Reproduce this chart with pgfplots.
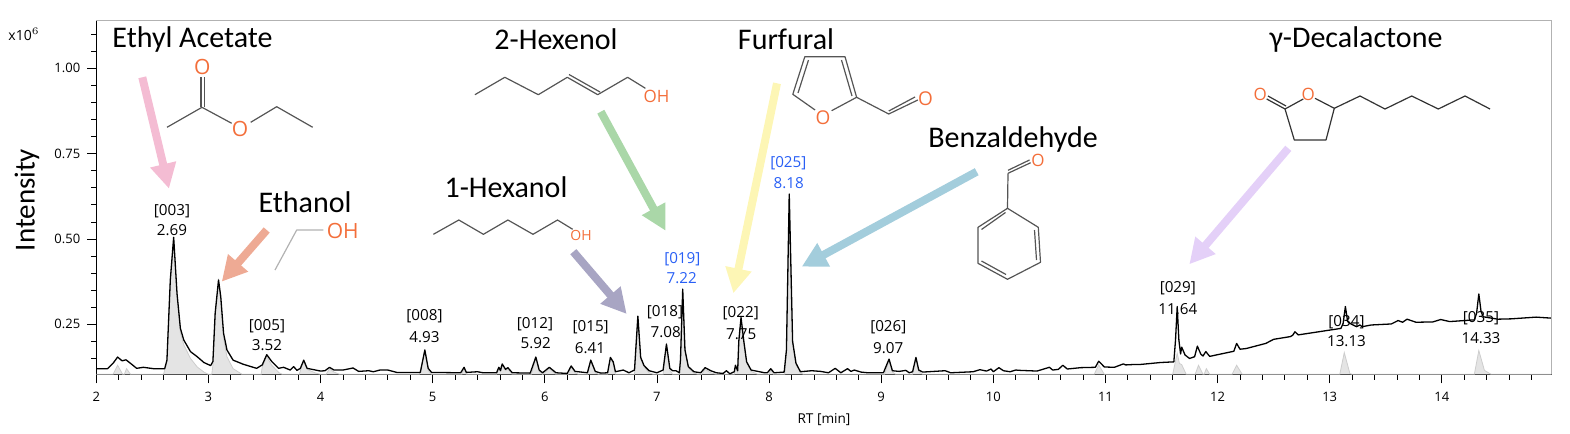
\documentclass[border=0pt]{standalone}
\usepackage{fontspec}
\setmainfont{Open Sans}
\newfontfamily\lab{Carlito}
\usepackage{pgfplots}
\pgfplotsset{compat=1.18}
\usetikzlibrary{arrows.meta}
\definecolor{orangeO}{RGB}{243,110,58}
\definecolor{bondgray}{RGB}{85,85,85}
\definecolor{frame}{RGB}{178,178,178}
\definecolor{peakfill}{RGB}{228,228,228}
\definecolor{peakline}{RGB}{205,205,205}
\definecolor{bluelab}{RGB}{40,95,245}
\definecolor{apink}{RGB}{244,188,211}
\definecolor{asalmon}{RGB}{238,170,148}
\definecolor{agreen}{RGB}{170,215,168}
\definecolor{ayellow}{RGB}{253,246,181}
\definecolor{ablue}{RGB}{163,205,220}
\definecolor{apurple}{RGB}{168,165,195}
\definecolor{alilac}{RGB}{228,208,248}

% chromatogram, RT [min] against intensity [x10^6]
\pgfplotstableread{
x y
2.00 .120
2.10 .120
2.15 .136
2.19 .154
2.23 .143
2.265 .146
2.315 .133
2.36 .121
2.42 .124
2.51 .120
2.61 .120
2.63 .145
2.66 .380
2.69 .505
2.72 .340
2.75 .238
2.78 .204
2.84 .170
2.90 .155
2.96 .138
3.02 .129
3.04 .141
3.06 .282
3.09 .380
3.11 .331
3.135 .224
3.165 .175
3.22 .145
3.31 .133
3.43 .121
3.48 .131
3.52 .161
3.565 .141
3.625 .121
3.67 .124
3.73 .116
3.76 .126
3.79 .115
3.82 .121
3.85 .145
3.88 .121
4.00 .113
4.04 .114
4.08 .124
4.12 .116
4.20 .116
4.29 .122
4.34 .112
4.43 .114
4.47 .111
4.53 .116
4.60 .116
4.68 .109
4.89 .109
4.93 .175
4.96 .121
4.99 .109
5.25 .108
5.28 .124
5.30 .109
5.40 .111
5.45 .108
5.57 .108
5.59 .124
5.605 .114
5.62 .134
5.65 .118
5.67 .123
5.71 .108
5.87 .107
5.92 .154
5.95 .116
5.98 .108
6.04 .124
6.10 .108
6.20 .106
6.235 .128
6.27 .112
6.38 .108
6.41 .145
6.45 .112
6.50 .107
6.56 .108
6.585 .153
6.61 .140
6.63 .111
6.70 .116
6.75 .108
6.80 .116
6.83 .274
6.855 .153
6.885 .129
6.93 .114
7.00 .108
7.055 .116
7.085 .192
7.115 .121
7.14 .114
7.17 .114
7.20 .108
7.21 .146
7.23 .353
7.25 .175
7.28 .126
7.33 .111
7.39 .108
7.43 .123
7.48 .114
7.53 .108
7.59 .106
7.62 .114
7.65 .105
7.69 .111
7.70 .130
7.72 .114
7.73 .200
7.75 .270
7.775 .200
7.80 .140
7.84 .116
7.90 .112
7.96 .108
7.985 .108
8.015 .120
8.045 .108
8.135 .110
8.155 .175
8.18 .632
8.21 .200
8.24 .136
8.28 .111
8.38 .114
8.46 .112
8.53 .108
8.59 .121
8.64 .108
8.70 .120
8.73 .112
8.76 .116
8.82 .110
8.88 .108
9.02 .108
9.07 .148
9.10 .114
9.16 .112
9.22 .115
9.25 .108
9.28 .111
9.31 .153
9.335 .116
9.37 .110
9.57 .114
9.62 .108
9.82 .111
9.88 .117
9.94 .113
9.98 .119
10.00 .111
10.05 .123
10.09 .114
10.15 .111
10.20 .116
10.24 .115
10.39 .113
10.50 .124
10.53 .116
10.58 .118
10.62 .130
10.66 .119
10.78 .123
10.91 .124
10.94 .142
10.99 .125
11.08 .124
11.16 .134
11.18 .131
11.24 .132
11.30 .132
11.49 .138
11.61 .140
11.625 .204
11.64 .302
11.655 .204
11.67 .163
11.68 .183
11.71 .160
11.75 .150
11.795 .155
11.82 .186
11.85 .163
11.87 .157
11.895 .170
11.93 .156
12.00 .161
12.145 .171
12.17 .194
12.20 .177
12.255 .179
12.43 .194
12.50 .206
12.65 .214
12.67 .218
12.69 .228
12.72 .219
12.90 .228
13.10 .238
13.12 .253
13.14 .302
13.16 .258
13.19 .251
13.24 .243
13.27 .248
13.29 .243
13.37 .248
13.55 .251
13.61 .261
13.65 .256
13.69 .265
13.77 .256
13.92 .257
13.99 .264
14.07 .258
14.29 .263
14.31 .282
14.33 .339
14.35 .287
14.37 .272
14.50 .265
14.62 .266
14.84 .271
14.98 .268
}\tic

% baseline corrected peaks (grey)
\pgfplotstableread{
x y
2.00 .1035
2.15 .1035
2.19 .130
2.235 .1035
2.25 .1035
2.27 .120
2.305 .1035
2.60 .1035
2.63 .140
2.66 .370
2.69 .500
2.72 .330
2.75 .225
2.78 .190
2.84 .150
2.90 .125
2.96 .110
3.00 .1035
3.03 .1035
3.04 .130
3.06 .270
3.09 .375
3.11 .320
3.135 .210
3.165 .155
3.22 .120
3.30 .1035
3.47 .1035
3.48 .125
3.52 .155
3.565 .130
3.63 .108
3.66 .1035
3.81 .1035
3.83 .125
3.85 .140
3.88 .118
3.95 .108
4.00 .1035
4.05 .1035
4.08 .120
4.12 .110
4.17 .1035
4.88 .1035
4.90 .130
4.93 .170
4.96 .115
4.99 .1035
5.26 .1035
5.28 .120
5.30 .1035
5.57 .1035
5.59 .120
5.62 .130
5.65 .114
5.67 .118
5.71 .1035
5.88 .1035
5.92 .150
5.95 .112
5.98 .1035
6.04 .120
6.10 .1035
6.21 .1035
6.235 .124
6.27 .108
6.30 .1035
6.38 .1035
6.41 .141
6.45 .108
6.48 .1035
6.56 .1035
6.585 .149
6.61 .136
6.63 .1035
6.80 .1035
6.83 .270
6.855 .149
6.885 .125
6.93 .108
6.97 .1035
7.055 .1035
7.085 .188
7.115 .116
7.14 .1035
7.20 .1035
7.21 .142
7.23 .349
7.25 .171
7.28 .122
7.33 .107
7.37 .1035
7.40 .1035
7.43 .118
7.48 .108
7.53 .1035
7.69 .1035
7.70 .126
7.72 .110
7.73 .196
7.75 .266
7.775 .196
7.80 .136
7.84 .112
7.90 .1035
8.00 .1035
8.015 .116
8.04 .1035
8.14 .1035
8.155 .171
8.18 .628
8.21 .196
8.24 .132
8.28 .107
8.31 .1035
9.03 .1035
9.07 .144
9.10 .110
9.13 .1035
9.28 .1035
9.31 .149
9.335 .112
9.37 .1035
10.90 .1035
10.94 .131
10.99 .1035
11.60 .1035
11.62 .135
11.64 .165
11.66 .135
11.68 .132
11.72 .1035
11.80 .1035
11.83 .130
11.87 .1035
11.88 .1035
11.90 .120
11.93 .1035
12.13 .1035
12.17 .130
12.22 .1035
13.09 .1035
13.13 .167
13.18 .106
13.20 .1035
14.29 .1035
14.33 .173
14.38 .115
14.44 .1035
14.98 .1035
}\peaks

\begin{document}
\begin{tikzpicture}
\begin{scope}[x=0.5pt,y=-0.5pt]
\useasboundingbox (0,0) rectangle (1570,434);
\end{scope}
\begin{axis}[
  at={(48.15pt,-187.15pt)},
  anchor=south west,
  scale only axis,
  width=727.7pt,
  height=176.8pt,
  xmin=2,xmax=14.98,
  ymin=0.1035,ymax=1.1395,
  axis x line*=bottom,
  axis y line*=left,
  axis line style={-,line width=0.6pt,black},
  tick style={line width=0.4pt,black},
  tick align=outside,
  major tick length=4.5pt,
  minor tick length=2.6pt,
  xtick={2,3,...,14},
  minor xtick={2.2,2.4,2.6,2.8,3.2,3.4,3.6,3.8,4.2,4.4,4.6,4.8,5.2,5.4,5.6,5.8,6.2,6.4,6.6,6.8,7.2,7.4,7.6,7.8,8.2,8.4,8.6,8.8,9.2,9.4,9.6,9.8,10.2,10.4,10.6,10.8,11.2,11.4,11.6,11.8,12.2,12.4,12.6,12.8,13.2,13.4,13.6,13.8,14.2,14.4,14.6,14.8},
  ytick={0.25,0.5,0.75,1},
  minor ytick={0.15,0.2,0.3,0.35,0.4,0.45,0.55,0.6,0.65,0.7,0.8,0.85,0.9,0.95,1.05,1.1},
  scaled ticks=false,
  xticklabel style={/pgf/number format/assume math mode=true,font=\fontsize{6.5}{8}\selectfont,yshift=-1pt},
  yticklabel style={/pgf/number format/fixed,/pgf/number format/fixed zerofill,/pgf/number format/precision=2,/pgf/number format/assume math mode=true,font=\fontsize{6.5}{8}\selectfont},
  xlabel={RT [min]},
  ylabel={\lab Intensity},
  every axis x label/.style={at={(axis description cs:0.5,-0.129)},anchor=center,font=\fontsize{6.8}{8}\selectfont},
  every axis y label/.style={at={(axis description cs:-0.0476,0.493)},rotate=90,anchor=center,font=\fontsize{14.5}{16}\selectfont},
  clip=true,
]
\addplot[fill=peakfill,draw=peakline,line width=0.4pt] table[x=x,y=y] {\peaks};
\addplot[black,line width=0.65pt,line join=round] table[x=x,y=y] {\tic};
\end{axis}

\begin{scope}[x=0.5pt,y=-0.5pt]
% frame top and right
\draw[frame,line width=0.7pt] (96.3,20.7) -- (1551.7,20.7) -- (1551.7,374.3);
\node[font=\fontsize{7}{8}\selectfont] at (24,34) {x10$^{6}$};

% compound names
\begin{scope}[every node/.style={font=\lab\fontsize{15}{17}\selectfont}]
\node at (192.5,39) {Ethyl Acetate};
\node at (556,39) {2-Hexenol};
\node at (786,39) {Furfural};
\node at (1356,39) {γ-Decalactone};
\node at (1013,139) {Benzaldehyde};
\node at (506,187) {1-Hexanol};
\node at (305,202) {Ethanol};
\end{scope}

% arrows
\tikzset{fat/.style={line width=4pt,-{Triangle[length=12.5pt,width=12.5pt]}}}
\draw[fat,apink] (142.3,77.3) -- (169,188.7);
\draw[fat,asalmon] (266.7,230) -- (221.7,281.7);
\draw[fat,agreen] (600.8,111.7) -- (665.5,230.7);
\draw[fat,ayellow] (777,83.3) -- (733.4,293.3);
\draw[fat,ablue] (976.7,171.7) -- (801.7,266.7);
\draw[fat,apurple] (573.3,251.7) -- (626.7,314);
\draw[fat,alilac] (1288.3,148.3) -- (1189.3,264.3);

% molecules
\begin{scope}[bondgray,line width=0.6pt,line join=round]
\draw (167,127.3) -- (202,107.3) -- (231.7,123.3);
\draw (250.7,122.3) -- (276.7,106.7) -- (312.7,127.3);
\draw (201,107) -- (201,77.3);
\draw (204.3,107) -- (204.3,77.3);
\draw (474.9,94.7) -- (504.8,77.3) -- (538.3,94.7) -- (567.3,77.3) -- (597.7,94.7) -- (627.6,77.3) -- (645.4,88.3);
\draw (569,74.5) -- (600,92);
\draw (815.1,110) -- (792.8,94.3) -- (804.8,56.7) -- (845,56.7) -- (856.6,97.3) -- (831.6,110.7);
\draw (798,93) -- (808.5,60);
\draw (841.5,60) -- (852,96);
\draw (856.6,97.3) -- (888.75,114) -- (917.8,100);
\draw (888.75,111) -- (915,97);
\draw (1008,173.3) -- (1030.7,162.7);
\draw (1008,170.3) -- (1029.5,160);
\draw (1008,173.3) -- (1007.5,208.3);
\draw (1007.5,208.3) -- (1038.3,227.3) -- (1040.5,262.3) -- (1007.5,279.3) -- (978,263.3) -- (978,227.3) -- cycle;
\draw (1034.5,230) -- (1036.5,260);
\draw (1006,274.5) -- (981.5,261);
\draw (981.5,229.5) -- (1005.5,212.5);
\draw (433.4,234.3) -- (458.8,220) -- (483.4,234.3) -- (507.9,220) -- (533,234.3) -- (557.5,220) -- (572.7,229.3);
\draw[frame] (275,270) -- (296.7,230) -- (323.3,230);
\draw[black!80] (1266.7,99) -- (1285,109) -- (1294.3,140) -- (1326,140) -- (1334.3,108.3) -- (1315,98.3);
\draw[black!80] (1303.3,99) -- (1285,109);
\draw[black!80] (1268,96) -- (1286,106);
\draw[black!80] (1334.3,108.3) -- (1360,96) -- (1385,109) -- (1411.7,96) -- (1438.3,109) -- (1465,96) -- (1490,109);
\end{scope}

% heteroatoms
\begin{scope}[text=orangeO]
\begin{scope}[every node/.style={font=\fontsize{10.5}{12}\selectfont,inner sep=0pt}]
\node at (202.3,66.7) {O};
\node at (240,129) {O};
\node at (342.7,230.7) {OH};
\end{scope}
\begin{scope}[every node/.style={font=\fontsize{9.5}{11}\selectfont,inner sep=0pt}]
\node at (823.1,118) {O};
\node at (925.4,98.3) {O};
\end{scope}
\begin{scope}[every node/.style={font=\fontsize{8.5}{10}\selectfont,inner sep=0pt}]
\node at (656.6,96.7) {OH};
\node at (1037.9,160.3) {O};
\node at (1260.3,94.7) {O};
\node at (1308.3,94.7) {O};
\end{scope}
\node[font=\fontsize{7}{8}\selectfont,inner sep=0pt] at (581,235.7) {OH};
\end{scope}

% peak labels
\begin{scope}[every node/.style={font=\fontsize{7.6}{9}\selectfont,inner sep=0pt}]
\node at (172,211) {[003]};
\node at (172,230.5) {2.69};
\node at (267,326) {[005]};
\node at (267,345) {3.52};
\node at (424.5,316) {[008]};
\node at (424.5,337.5) {4.93};
\node at (535,324) {[012]};
\node at (535.7,343.3) {5.92};
\node at (590.7,327.3) {[015]};
\node at (590,347.7) {6.41};
\node at (665,311.7) {[018]};
\node at (665.7,332.3) {7.08};
\node[text=bluelab] at (682.3,258.7) {[019]};
\node[text=bluelab] at (681.7,277.7) {7.22};
\node at (740.7,313.3) {[022]};
\node at (741.3,333.7) {7.75};
\node[text=bluelab] at (788.3,163.3) {[025]};
\node[text=bluelab] at (788.8,182.7) {8.18};
\node at (888.3,327.3) {[026]};
\node at (888.3,347.7) {9.07};
\node at (1177.8,287.7) {[029]};
\node at (1177.8,309) {11.64};
\node at (1346.5,321.7) {[034]};
\node at (1346.5,341.3) {13.13};
\node at (1481,318.3) {[035]};
\node at (1481,338) {14.33};
\end{scope}
\end{scope}
\end{tikzpicture}
\end{document}
